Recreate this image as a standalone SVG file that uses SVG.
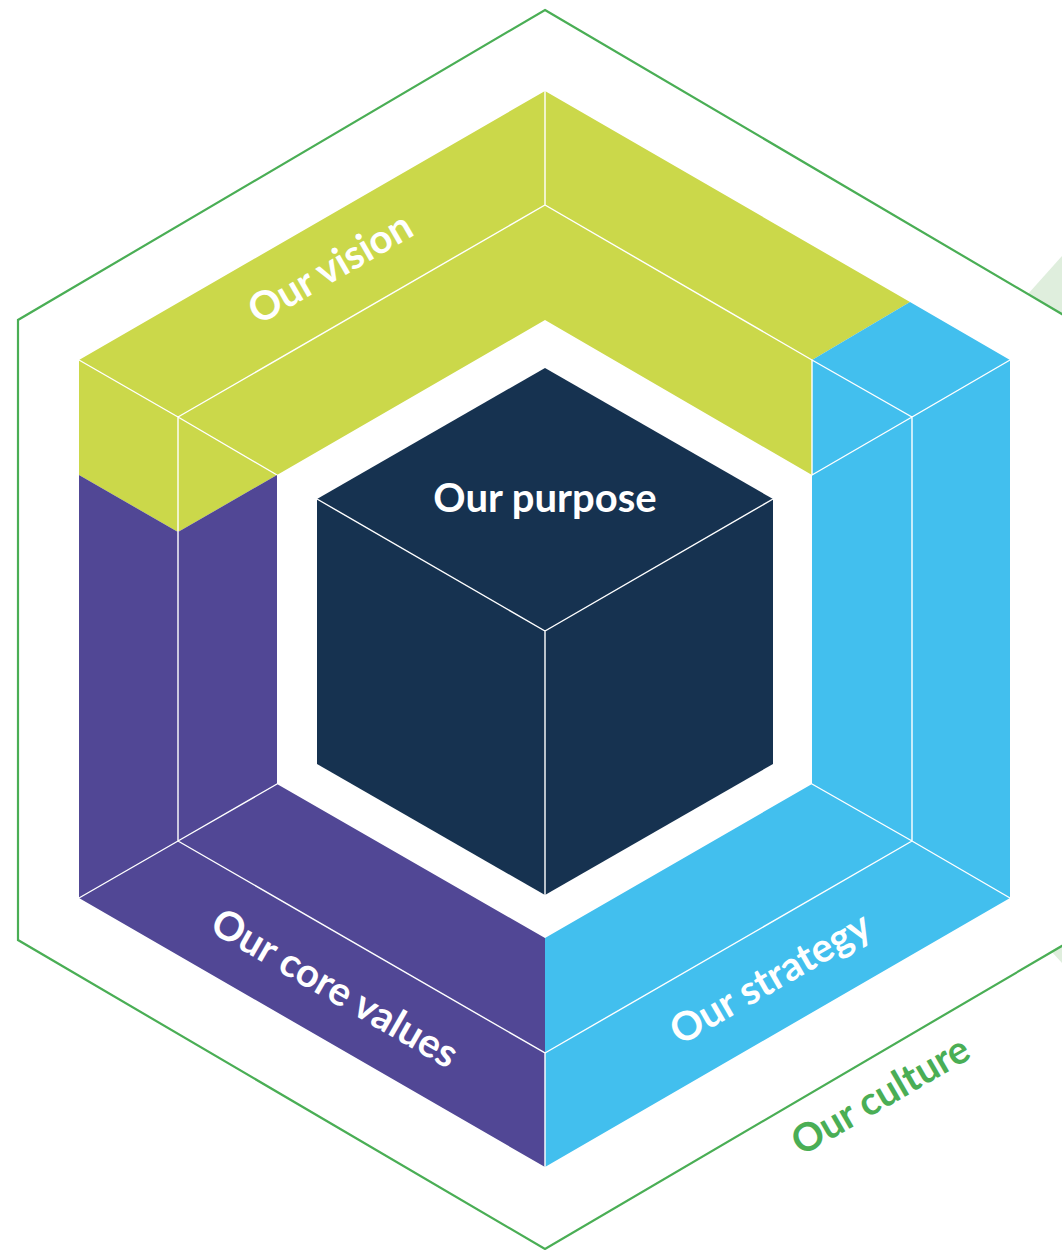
<svg xmlns="http://www.w3.org/2000/svg" width="1062" height="1250" viewBox="0 0 1062 1250">
  <style>
    .edge { fill: none; stroke: #ffffff; stroke-width: 1.4; stroke-linecap: round; }
    .label { font-family: Lato, "Open Sans", "Liberation Sans", sans-serif; font-weight: bold; font-size: 40px; fill: #ffffff; text-anchor: middle; }
    .culture { fill: #4aae55; font-size: 39px; }
  </style>
  <rect width="1062" height="1250" fill="#ffffff"/>

  <!-- pale accents at the right margin -->
  <polygon points="1028,294 1062,256 1062,314" fill="#dfeedd"/>
  <polygon points="1051,951 1062,945 1062,963" fill="#dfeedd"/>

  <!-- outer culture hexagon -->
  <g id="culture">
    <polygon points="545,10 1072,320 1072,940 545,1249 18,940 18,320" fill="none" stroke="#4aae55" stroke-width="2.2"/>
    <text class="label culture" transform="rotate(-30 887 1107)" x="887" y="1107">Our culture</text>
  </g>

  <!-- vision bar -->
  <g id="vision">
    <polygon points="79,360 545,91 910,302 812,360 812,475 545,320 277,475 178,532 79,475" fill="#cbd84a"/>
    <path class="edge" d="M545,91 L545,205 M178,417 L545,205 L812,360 M79,360 L178,417 L277,475 M178,417 L178,532"/>
    <text class="label" transform="rotate(-30 337 280)" x="337" y="280">Our vision</text>
  </g>

  <!-- strategy bar -->
  <g id="strategy">
    <polygon points="910,302 1010,360 1010,898 545,1167 545,938 812,784 812,360" fill="#42bfee"/>
    <path class="edge" d="M812,360 L912,417 L1010,360 M912,417 L812,475 M912,417 L912,841 M812,784 L912,841 L1010,898 M912,841 L545,1053 M812,360 L812,475"/>
    <text class="label" transform="rotate(-30 777 990)" x="777" y="990">Our strategy</text>
  </g>

  <!-- core values bar -->
  <g id="values">
    <polygon points="79,475 178,532 277,475 277,784 545,938 545,1167 79,898" fill="#514795"/>
    <path class="edge" d="M178,532 L178,841 M277,784 L178,841 L79,898 M178,841 L545,1053 L545,1167"/>
    <text class="label" transform="rotate(30 328 1000)" x="328" y="1000">Our core values</text>
  </g>

  <!-- purpose cube -->
  <g id="purpose">
    <polygon points="545,368 773,499 773,764 545,895 317,764 317,499" fill="#163250"/>
    <path class="edge" d="M317,499 L545,631 L773,499 M545,631 L545,895" stroke-width="1.2"/>
    <text class="label" x="545" y="512">Our purpose</text>
  </g>
</svg>
